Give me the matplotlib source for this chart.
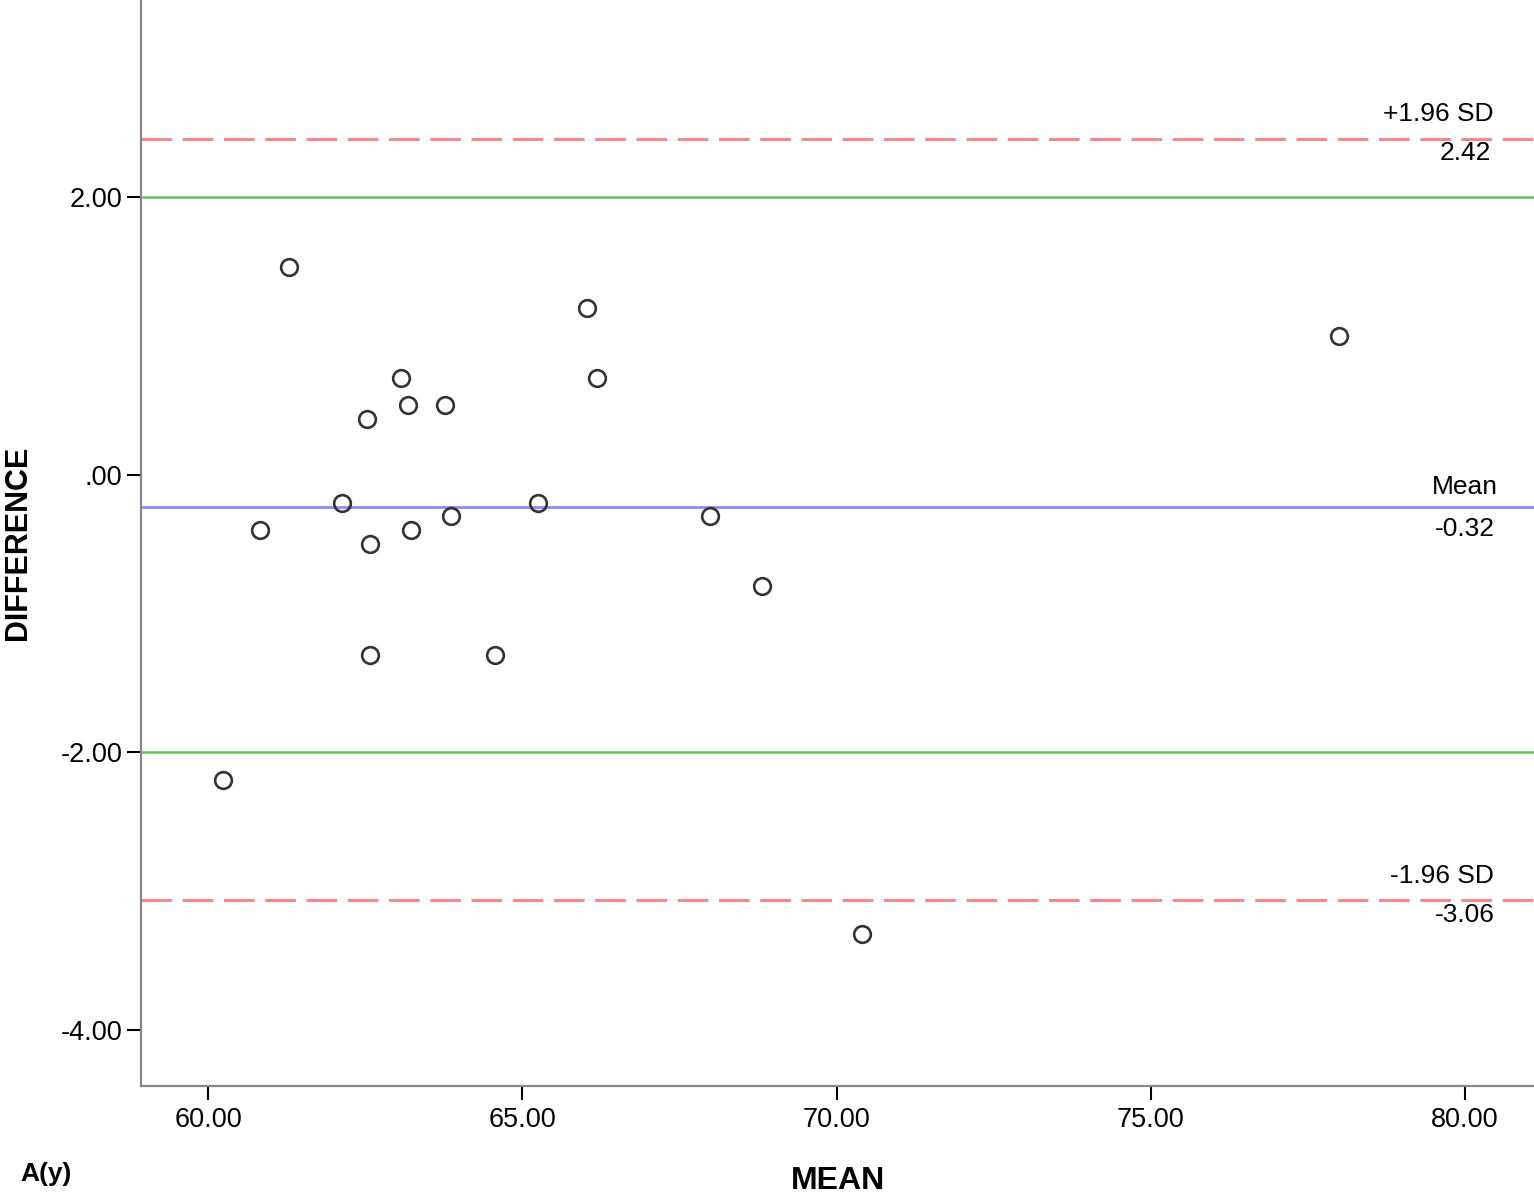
import matplotlib.pyplot as plt

plt.rcParams['font.family'] = ['Liberation Sans', 'DejaVu Sans']

# pontos (media, diferenca)
media = [61.29, 66.03, 77.99, 63.07, 66.18, 63.17, 63.77, 62.53, 62.13, 65.24,
         60.83, 62.58, 63.23, 63.87, 67.98, 68.82, 62.58, 64.57, 60.24, 70.41]
diferenca = [1.50, 1.20, 1.00, 0.70, 0.70, 0.50, 0.50, 0.40, -0.20, -0.20,
             -0.40, -0.50, -0.40, -0.30, -0.30, -0.80, -1.30, -1.30, -2.20, -3.31]

# linhas de referencia
limite_sup = 2.42
limite_inf = -3.06
linha_media = -0.23
limites_verdes = [2.0, -2.0]

xticks = [60, 65, 70, 75, 80]
yticks = [2, 0, -2, -4]
ytick_labels = ['2.00', '.00', '-2.00', '-4.00']

fig = plt.figure(figsize=(15.34, 11.97), dpi=100)
ax = fig.add_axes([0.092, 0.093, 0.908, 0.907])

for y in limites_verdes:
    ax.axhline(y, color='#5cc45c', lw=1.8, zorder=1)
ax.axhline(linha_media, color='#8c8cf5', lw=2, zorder=1)
for y in [limite_sup, limite_inf]:
    ax.axhline(y, color='#f28a8a', lw=2.2, linestyle=(0, (10, 3.5)), zorder=1)

ax.plot(media, diferenca, 'o', ms=12, mfc='none', mec='#333333', mew=1.9, zorder=3)

# rotulos das linhas
ax.text(79.57, 2.60, '+1.96 SD', ha='center', va='center', fontsize=19)
ax.text(80.0, 2.32, '2.42', ha='center', va='center', fontsize=19)
ax.text(80.0, -0.09, 'Mean', ha='center', va='center', fontsize=19)
ax.text(80.0, -0.39, '-0.32', ha='center', va='center', fontsize=19)
ax.text(79.63, -2.89, '-1.96 SD', ha='center', va='center', fontsize=19)
ax.text(80.0, -3.17, '-3.06', ha='center', va='center', fontsize=19)

ax.set_xlim(58.93, 81.10)
ax.set_ylim(-4.40, 3.42)
ax.set_xticks(xticks)
ax.set_xticklabels(['%.2f' % v for v in xticks])
ax.set_yticks(yticks)
ax.set_yticklabels(ytick_labels)
ax.tick_params(axis='both', labelsize=19.5, length=10, width=1.5, color='black')
ax.tick_params(axis='x', pad=5)

for s in ['top', 'right']:
    ax.spines[s].set_visible(False)
for s in ['left', 'bottom']:
    ax.spines[s].set_color('#888888')
    ax.spines[s].set_linewidth(1.6)

ax.set_xlabel('MEAN', fontsize=23, fontweight='bold', labelpad=24)
ax.set_ylabel('DIFFERENCE', fontsize=22, fontweight='bold', labelpad=20)
fig.text(0.013, 0.013, 'A(y)', fontsize=19, fontweight='bold')

fig.savefig('out.png', dpi=100)
